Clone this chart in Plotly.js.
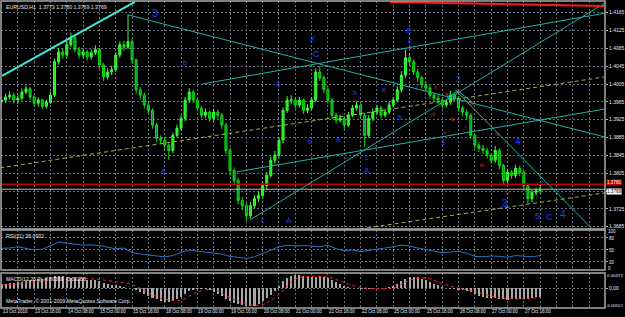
<!DOCTYPE html>
<html><head><meta charset="utf-8">
<script src="https://cdn.plot.ly/plotly-3.0.1.min.js"></script>
<style>html,body{margin:0;padding:0;background:#000;}#chart{width:625px;height:317px;}</style>
</head><body><div id="chart"></div>
<script>
// ---- DATA (EURUSD; each candle = 2 hourly bars) ----
const firstOpen = 1.3965;
const closes = [1.3969,1.3976,1.3980,1.3969,1.3973,1.3987,1.3994,1.3976,1.3962,1.3969,
 1.3955,1.3964,1.3980,1.4055,1.4077,1.4070,1.4093,1.4109,1.4082,1.4070,
 1.4077,1.4066,1.4075,1.4082,1.4048,1.4021,1.4032,1.4037,1.4070,1.4093,
 1.4088,1.4100,1.4059,1.3992,1.3980,1.3958,1.3946,1.3913,1.3883,1.3879,
 1.3868,1.3856,1.3890,1.3906,1.3928,1.3969,1.3987,1.3969,1.3951,1.3935,
 1.3942,1.3928,1.3942,1.3935,1.3913,1.3856,1.3811,1.3789,1.3744,1.3732,
 1.3710,1.3732,1.3748,1.3755,1.3777,1.3800,1.3834,1.3845,1.3879,1.3946,
 1.3969,1.3969,1.3958,1.3969,1.3946,1.3951,1.3969,1.4032,1.4019,1.3992,
 1.3969,1.3935,1.3924,1.3928,1.3913,1.3935,1.3951,1.3958,1.3935,1.3890,
 1.3928,1.3942,1.3951,1.3935,1.3942,1.3958,1.3969,1.3992,1.4025,1.4064,
 1.4055,1.4032,1.4019,1.4003,1.3996,1.3980,1.3973,1.3969,1.3958,1.3964,
 1.3980,1.3973,1.3951,1.3942,1.3935,1.3890,1.3868,1.3861,1.3856,1.3845,
 1.3834,1.3856,1.3822,1.3789,1.3807,1.3800,1.3816,1.3807,1.3777,1.3748,
 1.3762,1.3766,1.3769];
const highs = [1.3978,1.3984,1.3989,1.3986,1.3980,1.3995,1.4002,1.3998,1.3980,1.3975,
 1.3972,1.3970,1.3988,1.4062,1.4086,1.4084,1.4102,1.4120,1.4112,1.4088,
 1.4085,1.4082,1.4083,1.4092,1.4086,1.4052,1.4040,1.4046,1.4076,1.4100,
 1.4102,1.4161,1.4106,1.4062,1.3998,1.3986,1.3964,1.3950,1.3918,1.3890,
 1.3886,1.3872,1.3896,1.3914,1.3935,1.3976,1.3996,1.3992,1.3974,1.3956,
 1.3950,1.3946,1.3950,1.3948,1.3940,1.3918,1.3862,1.3818,1.3795,1.3752,
 1.3738,1.3740,1.3755,1.3764,1.3785,1.3808,1.3842,1.3855,1.3886,1.3952,
 1.3978,1.3980,1.3975,1.3976,1.3972,1.3960,1.3976,1.4040,1.4045,1.4024,
 1.3998,1.3974,1.3940,1.3936,1.3933,1.3942,1.3958,1.3966,1.3962,1.3940,
 1.3935,1.3950,1.3958,1.3956,1.3950,1.3966,1.3976,1.4000,1.4034,1.4082,
 1.4075,1.4060,1.4038,1.4024,1.4010,1.4002,1.3986,1.3980,1.3974,1.3972,
 1.3990,1.3986,1.3978,1.3956,1.3948,1.3940,1.3895,1.3874,1.3868,1.3862,
 1.3850,1.3866,1.3860,1.3826,1.3815,1.3812,1.3824,1.3822,1.3812,1.3782,
 1.3768,1.3772,1.3780];
const lows = [1.3958,1.3962,1.3970,1.3961,1.3960,1.3968,1.3982,1.3970,1.3955,1.3954,
 1.3948,1.3950,1.3960,1.3976,1.4048,1.4062,1.4064,1.4088,1.4076,1.4062,
 1.4064,1.4058,1.4060,1.4070,1.4040,1.4012,1.4015,1.4025,1.4032,1.4064,
 1.4080,1.4084,1.4050,1.3984,1.3970,1.3950,1.3938,1.3905,1.3875,1.3870,
 1.3860,1.3834,1.3850,1.3884,1.3900,1.3922,1.3962,1.3962,1.3944,1.3928,
 1.3928,1.3920,1.3922,1.3928,1.3905,1.3848,1.3800,1.3780,1.3735,1.3722,
 1.3698,1.3704,1.3726,1.3740,1.3750,1.3770,1.3795,1.3826,1.3840,1.3872,
 1.3940,1.3960,1.3950,1.3952,1.3938,1.3940,1.3946,1.3964,1.4012,1.3985,
 1.3962,1.3926,1.3916,1.3918,1.3904,1.3908,1.3930,1.3946,1.3928,1.3863,
 1.3884,1.3922,1.3936,1.3928,1.3930,1.3937,1.3952,1.3964,1.3986,1.4018,
 1.4046,1.4025,1.4010,1.3995,1.3988,1.3972,1.3965,1.3960,1.3950,1.3952,
 1.3958,1.3966,1.3944,1.3934,1.3926,1.3882,1.3860,1.3852,1.3848,1.3838,
 1.3826,1.3828,1.3814,1.3780,1.3782,1.3792,1.3794,1.3798,1.3768,1.3737,
 1.3740,1.3755,1.3760];
// RSI(21), one value every 4 hourly bars
const rsi = [54,55,58,54,50,52,62,70,67,64,62,63,61,57,53,55,44,40,37,35,
 33,36,44,50,47,45,43,40,34,31,29,33,42,50,58,62,60,61,60,58,
 62,53,48,50,46,49,52,54,58,62,60,55,51,48,43,45,47,42,34,33,
 35,34,32,36,34,33,36.09];
// MACD main (histogram), one value every 2 hourly bars
const macd = [0.0015,0.0014,0.0016,0.0017,0.0019,0.0021,0.0024,0.0026,0.0027,0.0029,
 0.0031,0.0033,0.0036,0.0038,0.0039,0.0038,0.0036,0.0034,0.0032,0.0030,
 0.0029,0.0027,0.0026,0.0025,0.0022,0.0018,0.0014,0.0011,0.0009,0.0007,
 0.0004,0.0002,0.0001,-0.0006,-0.0012,-0.0018,-0.0024,-0.0030,-0.0035,-0.0040,
 -0.0044,-0.0045,-0.0042,-0.0035,-0.0027,-0.0018,-0.0010,-0.0005,-0.0002,-0.0001,
 -0.0003,-0.0006,-0.0012,-0.0019,-0.0026,-0.0033,-0.0040,-0.0046,-0.0051,-0.0054,
 -0.0056,-0.0057,-0.0055,-0.0050,-0.0042,-0.0032,-0.0020,-0.0008,0.0008,0.0022,
 0.0034,0.0040,0.0042,0.0041,0.0039,0.0037,0.0036,0.0037,0.0038,0.0036,
 0.0032,0.0026,0.0019,0.0013,0.0008,0.0004,0.0002,0.0001,-0.0001,-0.0003,
 -0.0002,0.0000,0.0001,0.0002,0.0002,0.0004,0.0008,0.0015,0.0023,0.0031,
 0.0036,0.0037,0.0035,0.0031,0.0026,0.0020,0.0015,0.0010,0.0005,0.0001,
 -0.0001,-0.0002,-0.0004,-0.0006,-0.0008,-0.0013,-0.0018,-0.0023,-0.0027,-0.0030,
 -0.0032,-0.0032,-0.0033,-0.0035,-0.0036,-0.0035,-0.0034,-0.0033,-0.0033,-0.0034,
 -0.0032,-0.0029,-0.0027];
// MACD signal, one value every 8 hourly bars
const signal = [0.0010,0.0014,0.0020,0.0027,0.0033,0.0032,0.0028,0.0021,0.0012,-0.0015,
 -0.0035,-0.0038,-0.0012,-0.0004,-0.0030,-0.0050,-0.0052,-0.0020,0.0030,0.0038,
 0.0036,0.0018,0.0003,-0.0001,0.0001,0.0025,0.0033,0.0015,0.0000,-0.0010,
 -0.0025,-0.0032,-0.0034,-0.0029];
const timeLabels = ["13 Oct 2010","13 Oct 16:00","14 Oct 08:00","15 Oct 00:00","15 Oct 16:00",
 "18 Oct 08:00","19 Oct 00:00","19 Oct 16:00","20 Oct 08:00","21 Oct 00:00","21 Oct 16:00",
 "22 Oct 08:00","25 Oct 00:00","25 Oct 16:00","26 Oct 08:00","27 Oct 00:00","27 Oct 16:00"];
const priceTicks = [1.3685,1.3725,1.3765,1.3805,1.3845,1.3885,1.3925,1.3965,1.4005,1.4045,1.4085,1.4125,1.4165];
const bidPrice = 1.3769, askLine = 1.3780;
// trend lines drawn on the chart: [bar, price] endpoints
const trendFrom = [[0.25,1.4023],[62.0,1.4160],[98.3,1.4005],[121.8,1.3700],[115.4,1.3808],[222.3,1.3992],[-0.7,1.3817],[175.7,1.3680],[190.4,1.4189],[218.4,1.3974],[223.8,1.3989]];
const trendTo   = [[65.4,1.4189],[295.8,1.3886],[295.8,1.4164],[295.8,1.4187],[295.8,1.3949],[289.5,1.3680],[295.8,1.4021],[295.8,1.3761],[295.8,1.4180],[223.8,1.3989],[230.6,1.3965]];
// wave labels: text, bar, price
const blueText = ["3","b","X","C","a","b","e","E","c","a","b","a","c","A","c","A","b","1","4","3","5","C","4","2"];
const blueBar  = [75.2,90.0,152.7,154.2,136.0,173.3,187.5,199.3,200.2,79.2,151.2,165.4,179.2,179.2,128.2,140.9,195.3,216.4,253.2,246.8,262.5,268.4,275.2,223.8];
const bluePrice= [1.4164,1.4054,1.4108,1.4072,1.4007,1.3987,1.3992,1.4126,1.4102,1.3810,1.3875,1.3880,1.3841,1.3812,1.3700,1.3700,1.3931,1.3873,1.3875,1.3736,1.3709,1.3707,1.3713,1.4016];
const redText  = ["i","i","ii","a","c","b","iii","b","i","v","iv","iii","v"];
const redBar   = [204.2,203.2,212.5,218.4,224.3,230.6,211.5,221.3,227.2,216.9,242.9,235.5,247.8];
const redPrice = [1.4066,1.4001,1.3998,1.3983,1.3992,1.3962,1.3938,1.3927,1.3909,1.3897,1.3893,1.3823,1.3761];

// ---- BUILD ----
const F = 'Liberation Sans, Arial, sans-serif';
const candleX = closes.map((_, i) => 2 * i);          // hourly bar index
const opens = closes.map((c, i) => i === 0 ? firstOpen : closes[i - 1]);
const rsiX = rsi.map((_, i) => 4 * i);
const macdX = macd.map((_, i) => 2 * i);
const sigX = signal.map((_, i) => 8 * i);
const gridVals = [];
for (let n = 0; n <= 288; n += 8) gridVals.push(n);

const traces = [
  {type:'candlestick', x:candleX, open:opens, high:highs, low:lows, close:closes,
   xaxis:'x', yaxis:'y', hoverinfo:'skip',
   increasing:{line:{color:'#3cff3c', width:1}, fillcolor:'#22e022'},
   decreasing:{line:{color:'#10e010', width:1}, fillcolor:'#0a8a3a'}},
  {type:'scatter', mode:'lines', x:rsiX, y:rsi, xaxis:'x', yaxis:'y2',
   line:{color:'#2a72c8', width:1}},
  {type:'bar', x:macdX, y:macd, xaxis:'x', yaxis:'y3', width:1.0,
   marker:{color:'#a8a8a8', line:{width:0}}},
  {type:'scatter', mode:'lines', x:sigX, y:signal, xaxis:'x', yaxis:'y3',
   line:{color:'#ff2020', width:1, dash:'dot', shape:'spline'}}
];

const trendStyle = [
  {color:'#40e8d8', width:2, dash:'solid'},
  {color:'#20b2aa', width:1, dash:'solid'},
  {color:'#20b2aa', width:1, dash:'solid'},
  {color:'#20b2aa', width:1, dash:'solid'},
  {color:'#20b2aa', width:1, dash:'solid'},
  {color:'#20b2aa', width:1, dash:'solid'},
  {color:'#9ab84a', width:1, dash:'4px,3px'},
  {color:'#9ab84a', width:1, dash:'4px,3px'},
  {color:'#ff1a1a', width:2, dash:'solid'},
  {color:'#20b2aa', width:1, dash:'solid'},
  {color:'#20b2aa', width:1, dash:'solid'}
];
const shapes = [];
shapes.push({type:'line', xref:'paper', x0:0, x1:1, yref:'y', y0:askLine, y1:askLine, line:{color:'#c00000', width:1.5}});
shapes.push({type:'line', xref:'paper', x0:0, x1:1, yref:'y', y0:bidPrice, y1:bidPrice, line:{color:'#b8b8b8', width:1}});
trendFrom.forEach((a, i) => {
  shapes.push({type:'line', xref:'x', yref:'y', x0:a[0], y0:a[1], x1:trendTo[i][0], y1:trendTo[i][1], line:trendStyle[i]});
});
// panel frames
['y domain','y2 domain','y3 domain'].forEach(r => {
  shapes.push({type:'rect', xref:'x domain', yref:r, x0:0, x1:1, y0:0, y1:1, line:{color:'#a8a8a8', width:1.5}, fillcolor:'rgba(0,0,0,0)'});
});

const ann = [];
const smallFont = (c, s) => ({family:F, size:s || 5.2, color:c || '#e8e8e8'});
ann.push({xref:'paper', yref:'y domain', x:0, y:1, xanchor:'left', yanchor:'top', xshift:3, yshift:-1,
  text:'EURUSD,H1  1.3773 1.3780 1.3769 1.3769', showarrow:false, font:smallFont()});
ann.push({xref:'paper', yref:'y2 domain', x:0, y:1, xanchor:'left', yanchor:'top', xshift:3, yshift:-1,
  text:'RSI(21) 36.0932', showarrow:false, font:smallFont()});
ann.push({xref:'paper', yref:'y3 domain', x:0, y:1, xanchor:'left', yanchor:'top', xshift:3, yshift:-1,
  text:'MACD(12,26,9) -0.00268 -0.00288', showarrow:false, font:smallFont()});
ann.push({xref:'paper', yref:'y3 domain', x:0, y:0, xanchor:'left', yanchor:'bottom', xshift:3, yshift:2,
  text:'MetaTrader, © 2001-2009 MetaQuotes Software Corp.', showarrow:false, font:smallFont()});
// time labels, left-aligned on every second grid line
timeLabels.forEach((t, k) => {
  ann.push({xref:'x', yref:'paper', x:16 * k, y:0, xanchor:'left', yanchor:'top', xshift:0, yshift:0,
    text:t, showarrow:false, borderpad:0, font:smallFont('#e8e8e8', 4.5)});
});
// right scale edge labels
ann.push({xref:'paper', yref:'y2', x:1, y:100, xanchor:'left', yanchor:'top', xshift:2, yshift:2, borderpad:0, text:'100', showarrow:false, font:smallFont('#e8e8e8', 4.6)});
ann.push({xref:'paper', yref:'y2', x:1, y:0, xanchor:'left', yanchor:'bottom', xshift:2, yshift:-2, borderpad:0, text:'0', showarrow:false, font:smallFont('#e8e8e8', 4.6)});
ann.push({xref:'paper', yref:'y3 domain', x:1, y:1, xanchor:'left', yanchor:'top', xshift:1, yshift:1, borderpad:0, text:'0.00472', showarrow:false, font:smallFont('#e8e8e8', 4.4)});
ann.push({xref:'paper', yref:'y3 domain', x:1, y:0, xanchor:'left', yanchor:'bottom', xshift:0, yshift:-1, borderpad:0, text:'-0.00612', showarrow:false, font:smallFont('#e8e8e8', 4.2)});
// price boxes
ann.push({xref:'paper', yref:'y', x:1, y:askLine, xanchor:'left', yanchor:'bottom', xshift:1, yshift:-2, text:'1.3780',
  showarrow:false, bgcolor:'#c00000', borderpad:0, font:smallFont('#ffffff', 4.6)});
ann.push({xref:'paper', yref:'y', x:1, y:bidPrice, xanchor:'left', yanchor:'top', xshift:1, yshift:1, text:'1.3769',
  showarrow:false, bgcolor:'#ffffff', borderpad:0, font:smallFont('#000000', 4.6)});
// wave labels
const bigBlue = {"3":10,"4":10,"5":9,"C":9,"2":9,"E":8,"X":8,"1":8,"A":8};
blueText.forEach((t, i) => {
  let s = bigBlue[t] || 7.5;
  if (i === 0) s = 11;
  ann.push({xref:'x', yref:'y', x:blueBar[i], y:bluePrice[i], text:t, showarrow:false,
    font:{family:F, size:s, color:'#2040ff'}});
});
redText.forEach((t, i) => {
  ann.push({xref:'x', yref:'y', x:redBar[i], y:redPrice[i], text:t, showarrow:false,
    font:{family:F, size:6, color:'#d03a1a'}});
});

const yCommon = {side:'right', anchor:'x', showgrid:true, gridcolor:'#66707a', griddash:'2px,2px', gridwidth:1,
  zeroline:false, showline:false, ticks:'outside', ticklen:2, tickcolor:'#b0b0b0',
  tickfont:{family:F, size:5, color:'#e8e8e8'}, fixedrange:true};

const layout = {
  width:625, height:317, paper_bgcolor:'#000', plot_bgcolor:'#000',
  margin:{l:1, r:20, t:1, b:9}, showlegend:false, bargap:0,
  xaxis:{range:[-0.25,295.8], anchor:'y3', tickmode:'array', tickvals:gridVals, showticklabels:false,
    showgrid:true, gridcolor:'#66707a', griddash:'2px,2px', gridwidth:1, zeroline:false, showline:false,
    ticks:'', rangeslider:{visible:false}, fixedrange:true},
  // the 1.3765 label sits under the bid-price box, as in the reference
  yaxis:Object.assign({}, yCommon, {domain:[0.2573,1], range:[1.36798,1.41912], tickmode:'array',
    tickvals:priceTicks, ticktext:priceTicks.map(v => Math.abs(v - bidPrice) < 0.0006 ? '' : v.toFixed(4))}),
  yaxis2:Object.assign({}, yCommon, {domain:[0.1238,0.2541], range:[0,100], tickmode:'array',
    tickvals:[20,50,80], ticktext:['20','50','80'], tickfont:{family:F, size:4.6, color:'#e8e8e8'}}),
  yaxis3:Object.assign({}, yCommon, {domain:[0,0.114], range:[-0.00628,0.00488], tickmode:'array',
    tickvals:[0], ticktext:['0.00']}),
  shapes:shapes, annotations:ann
};
Plotly.newPlot('chart', traces, layout, {staticPlot:true, displayModeBar:false});
</script></body></html>
